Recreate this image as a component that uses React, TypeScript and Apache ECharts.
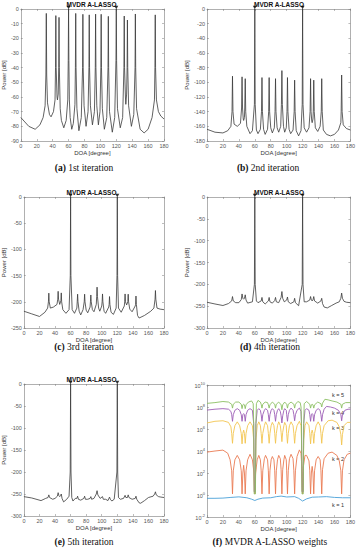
import React, { useEffect, useRef } from "react";
import * as echarts from "echarts";

// DOA [degree] vs Power [dB]
const specA: number[][] = [[0,-74],[5,-77],[10,-80],[18,-82],[24,-79],[28,-74],[30.5,-66],[31.5,-45],[32,-3],[32.5,-45],[33.5,-64],[36,-72],[38,-73.5],[41,-70],[43,-62],[43.6,-40],[44,-4.5],[44.4,-40],[45.5,-60],[46,-62],[47,-58],[47.6,-40],[48,-5.7],[48.4,-40],[49.5,-68],[51,-76],[54,-81],[57,-76],[59,-62],[59.6,-35],[60,0],[60.4,-35],[61,-62],[62,-74],[64,-82],[66,-78],[68,-65],[68.6,-40],[69,-3],[69.4,-40],[70.5,-68],[73,-83],[76,-74],[77.6,-40],[78,-3.6],[78.4,-40],[79.5,-66],[82,-80],[84.5,-70],[85.6,-40],[86,-4],[86.4,-40],[87.5,-66],[90,-79],[92.5,-70],[93.6,-40],[94,-3.5],[94.4,-40],[95.5,-66],[97.5,-79],[99.5,-70],[100.6,-40],[101,-3.6],[101.4,-40],[102.5,-68],[105,-82],[108,-74],[109.6,-40],[110,-5],[110.4,-40],[111.5,-70],[115,-84],[118,-74],[119.6,-35],[120,0],[120.4,-35],[121.5,-68],[125,-81],[128,-74],[129.6,-40],[130,-4.8],[130.4,-40],[131.5,-60],[132,-65],[133,-58],[133.6,-40],[134,-7.5],[134.4,-40],[135.5,-66],[139,-80],[142,-72],[143.6,-40],[144,-3.4],[144.4,-40],[145.5,-68],[150,-82],[155,-84.5],[160,-82],[165,-74],[168,-62],[168.6,-40],[169,-4],[169.4,-40],[170.5,-62],[173,-70],[176,-73],[180,-75]];

const specB: number[][] = [[0,-164],[5,-166],[10,-168],[20,-169],[26,-166],[30,-160],[31.4,-140],[32,-91.6],[32.6,-140],[34,-157],[38,-160],[42,-156],[43.4,-135],[44,-92.5],[44.6,-135],[45.5,-150],[46,-152],[47,-148],[47.4,-135],[48,-95],[48.6,-140],[50,-160],[54,-170],[57,-166],[59.5,-130],[60,0],[60.5,-130],[62,-165],[64,-170],[67,-164],[68.4,-140],[69,-93.5],[69.6,-140],[71,-164],[73,-171],[76,-164],[77.4,-140],[78,-93.5],[78.6,-140],[80,-162],[82,-169],[84.5,-162],[85.4,-140],[86,-95],[86.6,-140],[88,-162],[90,-168],[92.5,-160],[93.4,-130],[94,-84],[94.6,-130],[96,-160],[97.5,-168],[99.5,-162],[100.4,-140],[101,-93.5],[101.6,-140],[103,-164],[105,-170],[108,-165],[109.4,-140],[110,-97],[110.6,-140],[112,-166],[115,-173],[118,-166],[119.5,-130],[120,0],[120.5,-130],[122,-162],[125,-168],[128,-162],[129.4,-140],[130,-95],[130.6,-140],[131.5,-153],[132,-155],[133,-150],[133.4,-140],[134,-97],[134.6,-140],[136,-162],[139,-167],[142,-160],[143.4,-140],[144,-95],[144.6,-140],[146,-165],[150,-171],[155,-173],[160,-171],[165,-165],[168,-155],[168.4,-140],[169,-90],[169.6,-140],[171,-158],[175,-163],[180,-165]];

const specC: number[][] = [[0,-218],[10,-223],[20,-228],[27,-220],[30.5,-212],[31.5,-200],[32,-183.5],[32.5,-200],[34,-212],[38,-210],[42.5,-205],[43.5,-195],[44,-180],[44.5,-195],[46,-205],[47.5,-198],[48,-183],[48.5,-200],[50,-215],[54,-222],[58,-215],[59.6,-150],[60,0],[60.4,-150],[62,-215],[65,-222],[68,-212],[68.5,-200],[69,-185.5],[69.5,-200],[71,-218],[73,-225],[76,-215],[77.5,-200],[78,-185.5],[78.5,-200],[80,-216],[82,-221],[85,-210],[85.5,-200],[86,-187],[86.5,-200],[88,-215],[90,-219],[93,-205],[93.5,-190],[94,-172],[94.5,-190],[96,-212],[97.5,-218],[100,-208],[100.5,-200],[101,-185],[101.5,-200],[103,-218],[105,-222],[109,-210],[109.5,-205],[110,-190],[110.5,-205],[112,-220],[115,-224],[118.5,-212],[119.6,-150],[120,0],[120.4,-150],[121.5,-212],[125,-220],[129,-208],[129.5,-200],[130,-185],[130.5,-200],[132,-206],[133.5,-200],[134,-185.5],[134.5,-200],[136,-214],[139,-219],[143,-208],[143.5,-205],[144,-189],[144.5,-205],[146,-226],[148,-231],[155,-226],[163,-218],[167,-212],[168.5,-195],[169,-178.5],[169.5,-195],[171,-212],[175,-214],[180,-215]];

const specD: number[][] = [[0,-241],[10,-245],[20,-248.5],[27,-244],[31,-238],[32,-228],[33,-238],[36,-242],[40,-242],[43,-235],[44,-222],[45,-232],[46,-234],[47,-232],[48,-224],[49,-236],[51,-243],[57,-240],[59.5,-200],[60,0],[60.5,-200],[62,-238],[64,-242],[68,-238],[69,-230],[70,-240],[73,-245],[77,-238],[78,-230],[79,-240],[82,-243],[85,-237],[86,-230],[87,-240],[90,-242],[93,-230],[94,-216.5],[95,-232],[97,-240],[100,-236],[101,-229],[102,-240],[105,-244],[109,-240],[110,-232],[111,-242],[115,-249],[119.5,-200],[120,0],[120.5,-200],[122,-240],[125,-240],[129,-236],[130,-228],[131,-236],[132,-238],[133,-236],[134,-228],[135,-238],[139,-243],[143,-238],[144,-232],[145,-244],[147,-252],[151,-254],[156,-249],[162,-243],[166,-240],[168,-232],[169,-220],[170,-232],[172,-239],[175,-241],[180,-242]];

const specE: number[][] = [[0,-256],[10,-259],[22,-265],[28,-260],[31,-258],[32,-252],[33,-258],[37,-262],[40,-260],[43,-255],[44,-247],[45,-254],[46,-256],[47,-254],[48,-250],[49,-260],[51,-268],[55,-262],[58,-255],[59.5,-200],[60,0],[60.5,-200],[61.5,-258],[63,-266],[66,-260],[68,-260],[69,-255],[70,-262],[73,-264],[77,-260],[78,-255],[79,-262],[82,-262],[85,-260],[86,-256],[87,-262],[90,-260],[93,-250],[94,-242.5],[95,-252],[98,-260],[101,-256],[102,-262],[105,-262],[108,-265],[110,-257],[111,-262],[113,-266],[116,-262],[119.5,-200],[120,0],[120.5,-200],[121.5,-258],[124,-262],[128,-260],[130,-253],[131,-258],[133,-258],[134,-252],[135,-258],[139,-262],[143,-260],[144,-255],[145,-262],[148,-270],[150,-271],[155,-265],[160,-258],[166,-255],[168,-250],[169,-245],[170,-252],[173,-256],[176,-257],[180,-258]];

// MVDR A-LASSO weights, written as decimal exponents (log10 of weight)
const weightK1: number[][] = [[0,-0.3],[10,-0.3],[20,-0.28],[30,-0.22],[40,-0.17],[50,-0.25],[56,-0.38],[60,-0.5],[64,-0.38],[70,-0.28],[80,-0.25],[87,-0.15],[93,-0.1],[100,-0.18],[110,-0.15],[115,-0.3],[120,-0.55],[125,-0.35],[132,-0.2],[140,-0.18],[150,-0.15],[160,-0.22],[170,-0.25],[180,-0.25]];

const weightK2: number[][] = [[0,3.9],[10,4.0],[20,4.08],[26,3.8],[29,3.2],[31,2.2],[32,0.1],[33,2.2],[35,3.2],[38,3.6],[41,3.2],[43,2.2],[44,0.1],[45,2.0],[46,2.7],[47,2.0],[48,0.1],[49,2.2],[51,3.2],[54,3.7],[57,3.2],[59,2.0],[60,0.1],[61,2.0],[63,3.2],[65,3.6],[67,3.2],[68,2.2],[69,0.1],[70,2.2],[72,3.3],[73.5,3.6],[76,3.2],[77,2.2],[78,0.1],[79,2.2],[80.5,3.2],[82,3.5],[84,3.2],[85,2.2],[86,0.1],[87,2.2],[88.5,3.2],[90,3.6],[92,3.3],[93,2.3],[94,0.1],[95,2.3],[96.5,3.2],[97.5,3.6],[99.5,3.2],[100,2.2],[101,0.1],[102,2.2],[103.5,3.3],[105.5,3.7],[108,3.3],[109,2.2],[110,0.1],[111,2.2],[113,3.5],[116,4.1],[118,3.8],[119,2.6],[120,0.1],[121,2.6],[123,3.6],[125,3.6],[128,3.1],[129,2.2],[130,0.1],[131,2.0],[132,2.6],[133,2.0],[134,0.1],[135,2.2],[137,3.2],[139.5,3.5],[142,3.2],[143,2.2],[144,0.1],[145,2.3],[147,3.3],[152,3.8],[157,3.9],[163,3.6],[166,3.1],[168,2.2],[169,0.1],[170,2.2],[172,3.2],[176,3.7],[180,3.8]];

const weightK3: number[][] = [[0,6.55],[10,6.7],[20,6.75],[27,6.6],[30,6.2],[31,5.6],[32,4.7],[33,5.6],[35,6.3],[38,6.65],[41,6.3],[43,5.6],[44,4.65],[45,5.6],[46,5.9],[47,5.6],[48,4.7],[49,5.6],[51,6.3],[54,6.65],[57,6.3],[58.6,5.0],[59.3,0.3],[60.7,0.3],[61.4,5.0],[63,6.3],[65,6.65],[67,6.3],[68,5.6],[69,4.7],[70,5.6],[72,6.3],[73.5,6.65],[76,6.3],[77,5.6],[78,4.7],[79,5.6],[80.5,6.3],[82,6.6],[84,6.3],[85,5.6],[86,4.7],[87,5.6],[88.5,6.3],[90,6.65],[92,6.3],[93,5.7],[94,4.85],[95,5.7],[96.5,6.3],[97.5,6.6],[99.5,6.3],[100,5.6],[101,4.7],[102,5.6],[103.5,6.3],[105.5,6.65],[108,6.3],[109,5.6],[110,4.7],[111,5.6],[113,6.3],[116,6.7],[118,6.3],[118.6,5.0],[119.3,0.3],[120.7,0.3],[121.4,5.0],[123,6.3],[125,6.65],[128,6.3],[129,5.6],[130,4.65],[131,5.6],[132,5.9],[133,5.6],[134,4.7],[135,5.6],[137,6.3],[139.5,6.65],[142,6.3],[143,5.6],[144,4.7],[145,5.6],[147,6.3],[152,6.75],[157,6.8],[163,6.6],[166,6.2],[168,5.5],[169,4.55],[170,5.5],[172,6.3],[176,6.6],[180,6.6]];

const weightK4: number[][] = [[0,7.72],[10,7.8],[20,7.85],[27,7.8],[30,7.6],[31,7.3],[32,6.7],[33,7.3],[35,7.7],[38,7.85],[41,7.7],[43,7.3],[44,6.7],[45,7.3],[46,7.4],[47,7.3],[48,6.7],[49,7.3],[51,7.7],[54,7.85],[57,7.7],[58.6,6.5],[59.3,0.3],[60.7,0.3],[61.4,6.5],[63,7.7],[65,7.85],[67,7.7],[68,7.3],[69,6.7],[70,7.3],[72,7.7],[73.5,7.85],[76,7.7],[77,7.3],[78,6.7],[79,7.3],[80.5,7.7],[82,7.85],[84,7.7],[85,7.3],[86,6.7],[87,7.3],[88.5,7.7],[90,7.85],[92,7.6],[93,7.2],[94,6.55],[95,7.2],[96.5,7.7],[97.5,7.85],[99.5,7.7],[100,7.3],[101,6.7],[102,7.3],[103.5,7.7],[105.5,7.9],[108,7.7],[109,7.3],[110,6.75],[111,7.3],[113,7.7],[116,7.9],[118,7.6],[118.6,6.5],[119.3,0.3],[120.7,0.3],[121.4,6.5],[123,7.7],[125,7.85],[128,7.7],[129,7.3],[130,6.7],[131,7.3],[132,7.4],[133,7.3],[134,6.7],[135,7.3],[137,7.7],[139.5,7.85],[142,7.7],[143,7.3],[144,6.7],[145,7.3],[147,7.8],[150,8.05],[155,8.0],[160,7.9],[165,7.7],[168,7.3],[169,6.75],[170,7.3],[173,7.7],[177,7.8],[180,7.8]];

const weightK5: number[][] = [[0,8.33],[10,8.4],[20,8.5],[27,8.45],[31,8.25],[32,7.9],[33,8.25],[36,8.45],[40,8.45],[43,8.25],[44,7.85],[45,8.2],[46,8.25],[47,8.2],[48,7.85],[49,8.2],[52,8.45],[56,8.55],[58,8.3],[58.6,6.5],[59.2,0.1],[60.8,0.1],[61.4,6.5],[62,8.3],[64,8.6],[67,8.45],[68,8.25],[69,7.9],[70,8.25],[73,8.45],[76,8.4],[77,8.2],[78,7.9],[79,8.2],[82,8.45],[85,8.25],[86,7.9],[87,8.25],[90,8.45],[93,8.2],[94,7.75],[95,8.2],[97.5,8.45],[100,8.25],[101,7.9],[102,8.25],[105.5,8.45],[109,8.25],[110,7.9],[111,8.25],[114,8.5],[117,8.4],[118,8.0],[118.6,6.5],[119.2,0.1],[120.8,0.1],[121.4,6.5],[122,8.3],[125,8.5],[129,8.25],[130,7.9],[131,8.2],[132,8.25],[133,8.2],[134,7.9],[135,8.2],[139,8.45],[143,8.3],[144,8.0],[145,8.35],[148,8.7],[152,8.65],[157,8.55],[163,8.45],[168,8.25],[169,7.9],[170,8.25],[174,8.4],[180,8.4]];

const trueDOA = [60, 120];
const xTickStep = 20;
const spectra = [specA, specB, specC, specD, specE];
const yRanges = [
  { min: -90, max: 0, interval: 10 },
  { min: -180, max: 0, interval: 20 },
  { min: -250, max: 0, interval: 50 },
  { min: -300, max: 0, interval: 50 },
  { min: -300, max: 0, interval: 50 },
];
const captionTags = ["(a)", "(b)", "(c)", "(d)", "(e)", "(f)"];
const captionTexts = ["1st iteration", "2nd iteration", "3rd iteration", "4th iteration", "5th iteration", "MVDR A-LASSO weights"];
const weightSeries = [weightK1, weightK2, weightK3, weightK4, weightK5];
const weightNames = ["k = 1", "k = 2", "k = 3", "k = 4", "k = 5"];
const titleText = "MVDR A-LASSO";

const gridBoxes = [
  { left: 19, top: 9, width: 145, height: 132 },
  { left: 207, top: 9, width: 144, height: 132 },
  { left: 19, top: 197, width: 145, height: 131 },
  { left: 207, top: 197, width: 144, height: 131 },
  { left: 19, top: 384, width: 145, height: 132 },
  { left: 207, top: 385, width: 144, height: 132 },
];
const captionPos = [
  { x: 84, y: 168 }, { x: 268, y: 168 },
  { x: 84, y: 347 }, { x: 270, y: 347 },
  { x: 84, y: 542 }, { x: 270, y: 542 },
];
const weightColors = ["#4aa0d8", "#ea7a52", "#f3c550", "#9c5cb6", "#8cc063"];
const weightLabelPos = [
  { x: 332, y: 505 }, { x: 332, y: 459 }, { x: 332, y: 428 }, { x: 332, y: 413 }, { x: 332, y: 395 },
];

const SANS = "'Liberation Sans', Arial, sans-serif";
const SERIF = "'Liberation Serif', 'Times New Roman', serif";
const axisGray = "#7a7a7a";
const labelGray = "#555";

export default function App() {
  const ref = useRef<HTMLDivElement>(null);
  useEffect(() => {
    if (!ref.current) return;
    const chart = echarts.init(ref.current, undefined, { renderer: "svg" });

    const grid: any[] = gridBoxes.map((g) => ({ ...g, containLabel: false, show: false }));
    const xAxis: any[] = [];
    const yAxis: any[] = [];
    const series: any[] = [];
    const graphic: any[] = [];

    const lineStyle = { color: axisGray, width: 0.6 };
    const tick = { show: true, inside: true, length: 2, lineStyle: { color: axisGray, width: 0.5 } };

    gridBoxes.forEach((g, i) => {
      xAxis.push({
        type: "value", gridIndex: i, position: "bottom", min: 0, max: 180, interval: xTickStep,
        axisLine: { show: true, onZero: false, lineStyle }, axisTick: tick, splitLine: { show: false },
        axisLabel: { show: true, fontSize: 5.5, color: labelGray, fontFamily: SANS, margin: 2 },
        name: "DOA [degree]", nameLocation: "middle", nameGap: 8,
        nameTextStyle: { fontSize: 6, color: "#333", fontFamily: SANS },
      });
      xAxis.push({
        type: "value", gridIndex: i, position: "top", min: 0, max: 180, interval: xTickStep,
        axisLine: { show: true, onZero: false, lineStyle }, axisTick: tick, splitLine: { show: false },
        axisLabel: { show: false },
      });
      if (i < 5) {
        const r = yRanges[i];
        yAxis.push({
          type: "value", gridIndex: i, position: "left", min: r.min, max: r.max, interval: r.interval,
          axisLine: { show: true, onZero: false, lineStyle }, axisTick: tick, splitLine: { show: false },
          axisLabel: { show: true, fontSize: 5.5, color: labelGray, fontFamily: SANS, margin: 2 },
          name: "Power [dB]", nameLocation: "middle", nameGap: 9,
          nameTextStyle: { fontSize: 6, color: "#333", fontFamily: SANS },
        });
        yAxis.push({
          type: "value", gridIndex: i, position: "right", min: r.min, max: r.max, interval: r.interval,
          axisLine: { show: true, onZero: false, lineStyle }, axisTick: tick, splitLine: { show: false },
          axisLabel: { show: false },
        });
        series.push({
          type: "line", xAxisIndex: 2 * i, yAxisIndex: 2 * i, data: spectra[i], showSymbol: false,
          symbol: "none", lineStyle: { color: "#3a3a3a", width: 0.8 }, z: 2,
        });
        series.push({
          type: "scatter", xAxisIndex: 2 * i, yAxisIndex: 2 * i, data: trueDOA.map((d) => [d, r.max]),
          symbol: "triangle", symbolRotate: 180, symbolSize: [4, 3.5], symbolOffset: [0, -1.5],
          itemStyle: { color: "#000" }, clip: false, z: 5,
        });
        graphic.push({
          type: "text", x: g.left + g.width / 2, y: g.top - 4.5,
          style: { text: titleText, fontSize: 6.5, fontWeight: "bold", fontFamily: SANS, fill: "#111", textAlign: "center", textVerticalAlign: "middle" },
        });
      } else {
        const logAxis = (pos: string, showLabel: boolean) => ({
          type: "log", logBase: 10, gridIndex: i, position: pos, min: 0.01, max: 1e10, interval: 2, splitNumber: 6,
          axisLine: { show: true, onZero: false, lineStyle }, axisTick: tick, splitLine: { show: false },
          minorTick: { show: false },
          axisLabel: {
            show: showLabel, margin: 2, fontFamily: SANS, color: labelGray,
            formatter: (v: number) => `{b|10}{s|${Math.round(Math.log10(v))}}`,
            rich: {
              b: { fontSize: 5.5, color: labelGray, fontFamily: SANS, verticalAlign: "bottom", lineHeight: 8 },
              s: { fontSize: 4, color: labelGray, fontFamily: SANS, verticalAlign: "top", lineHeight: 8, padding: [0, 0, 3, 0] },
            },
          },
        });
        yAxis.push(logAxis("left", true));
        yAxis.push(logAxis("right", false));
        weightSeries.forEach((w, k) => {
          series.push({
            type: "line", xAxisIndex: 2 * i, yAxisIndex: 2 * i, name: weightNames[k],
            data: w.map((p) => [p[0], Math.pow(10, p[1])]), showSymbol: false, symbol: "none",
            lineStyle: { color: weightColors[k], width: 0.9 }, z: 2 + k,
          });
          graphic.push({
            type: "text", x: weightLabelPos[k].x, y: weightLabelPos[k].y,
            style: { text: weightNames[k], fontSize: 5.5, fontFamily: SANS, fill: "#333", textAlign: "left", textVerticalAlign: "middle" },
          });
        });
      }
      graphic.push({
        type: "text", x: captionPos[i].x, y: captionPos[i].y,
        style: {
          text: `{t|${captionTags[i]}} ${captionTexts[i]}`,
          rich: { t: { fontWeight: "bold", fontSize: 9.5, fontFamily: SERIF, fill: "#111" } },
          fontSize: 9.5, fontFamily: SERIF, fill: "#111", textAlign: "center", textVerticalAlign: "middle",
        },
      });
    });

    chart.setOption({
      animation: false,
      backgroundColor: "#fff",
      grid, xAxis, yAxis, series, graphic,
    });
    return () => chart.dispose();
  }, []);
  return (
    <div ref={ref} style={{ position: "absolute", left: 0, top: 0, width: 358, height: 550 }} />
  );
}
